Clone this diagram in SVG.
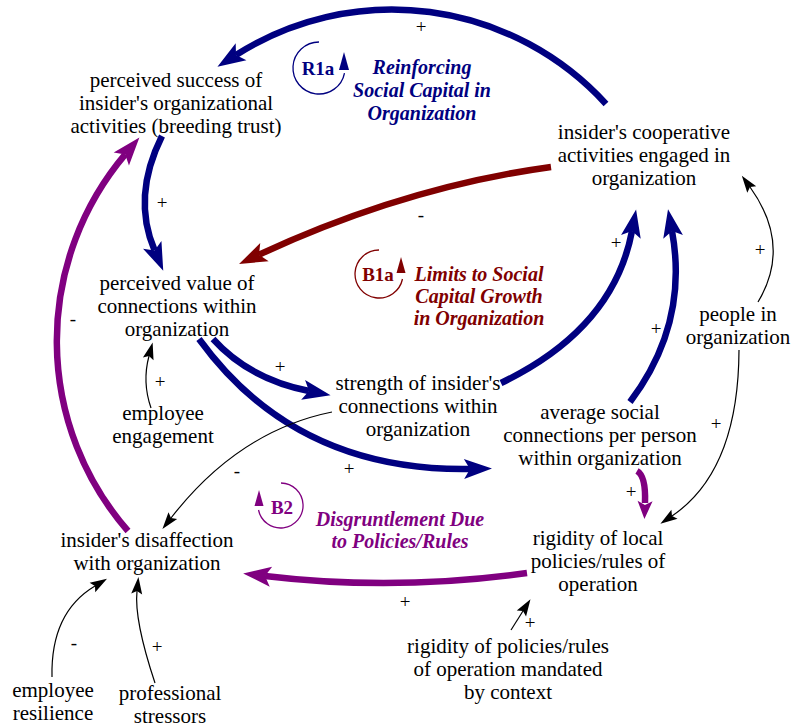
<svg xmlns="http://www.w3.org/2000/svg" width="791" height="727" viewBox="0 0 791 727">
  <style>
    text { font-family: "Liberation Serif", "DejaVu Serif", "Noto Serif", serif; }
    .node text { font-size: 21px; fill: #000; text-anchor: middle; }
    .sign { font-size: 19px; fill: #000; text-anchor: middle; }
    .loopname { font-size: 19px; font-weight: bold; text-anchor: middle; }
    .looptitle { font-size: 20px; font-weight: bold; font-style: italic; text-anchor: middle; }
    .thick { fill: none; stroke-width: 6.5; stroke-linecap: butt; }
    .thin { fill: none; stroke: #000; stroke-width: 1.2; }
    .navy { stroke: #000080; }
    .red { stroke: #800000; }
    .purple { stroke: #800080; }
    .loopcircle { fill: none; stroke-width: 1.3; }
  </style>
  <defs>
    <marker id="head-navy" markerUnits="userSpaceOnUse" markerWidth="40" markerHeight="40" refX="7" refY="0" orient="auto" overflow="visible">
      <path d="M1,-10 L29,0 L1,10 L7,0 Z" fill="#000080"/>
    </marker>
    <marker id="head-red" markerUnits="userSpaceOnUse" markerWidth="40" markerHeight="40" refX="7" refY="0" orient="auto" overflow="visible">
      <path d="M1,-10 L29,0 L1,10 L7,0 Z" fill="#800000"/>
    </marker>
    <marker id="head-purple" markerUnits="userSpaceOnUse" markerWidth="40" markerHeight="40" refX="7" refY="0" orient="auto" overflow="visible">
      <path d="M1,-10 L29,0 L1,10 L7,0 Z" fill="#800080"/>
    </marker>
    <marker id="head-purple-small" markerUnits="userSpaceOnUse" markerWidth="30" markerHeight="30" refX="4" refY="0" orient="auto" overflow="visible">
      <path d="M2,-7.5 L20,0 L2,7.5 L6,0 Z" fill="#800080"/>
    </marker>
    <marker id="head-black" markerUnits="userSpaceOnUse" markerWidth="30" markerHeight="30" refX="3" refY="0" orient="auto" overflow="visible">
      <path d="M0,-5.5 L17,0 L0,5.5 L3,0 Z" fill="#000"/>
    </marker>
  </defs>

  <rect width="791" height="727" fill="#fff"/>

  <!-- causal links -->
  <g id="connectors">
    <path class="thick navy" d="M606,104 A290,290 0 0 0 236,55" marker-end="url(#head-navy)"/>
    <path class="thick navy" d="M162,136 Q131.7,196.8 154.6,250.4" marker-end="url(#head-navy)"/>
    <path class="thick red" d="M551,167 Q405,187 259,254.7" marker-end="url(#head-red)"/>
    <path class="thick navy" d="M213,339 Q249,379 309,391" marker-end="url(#head-navy)"/>
    <path class="thick navy" d="M199,339 Q295.5,472 470,469" marker-end="url(#head-navy)"/>
    <path class="thick navy" d="M501,383 Q613.5,329 632,231" marker-end="url(#head-navy)"/>
    <path class="thick navy" d="M630,402 Q689,323.5 672,231" marker-end="url(#head-navy)"/>
    <path class="thick purple" d="M637,471 Q646,476 645,503" marker-end="url(#head-purple-small)"/>
    <path class="thick purple" d="M527,573 Q394,591.5 265,576" marker-end="url(#head-purple)"/>
    <path class="thick purple" d="M128,531 A289,289 0 0 1 125.2,154.4" marker-end="url(#head-purple)"/>
    <path class="thin" d="M758,302 Q792,245.5 750,187" marker-end="url(#head-black)"/>
    <path class="thin" d="M739,350 Q738.5,471 672,516" marker-end="url(#head-black)"/>
    <path class="thin" d="M332,412 Q238.5,431 171,518" marker-end="url(#head-black)"/>
    <path class="thin" d="M151,408 Q142,382 149,356" marker-end="url(#head-black)"/>
    <path class="thin" d="M52,677 Q50.5,612.5 95,586" marker-end="url(#head-black)"/>
    <path class="thin" d="M155,683 Q134,620 137,591" marker-end="url(#head-black)"/>
    <path class="thin" d="M511,630 L523,611" marker-end="url(#head-black)"/>

    <!-- polarity signs -->
    <text class="sign" x="421" y="33">+</text>
    <text class="sign" x="162" y="209">+</text>
    <text class="sign" x="421" y="221">-</text>
    <text class="sign" x="280" y="373">+</text>
    <text class="sign" x="349" y="475">+</text>
    <text class="sign" x="237" y="477">-</text>
    <text class="sign" x="616" y="249">+</text>
    <text class="sign" x="656" y="335">+</text>
    <text class="sign" x="760" y="256">+</text>
    <text class="sign" x="716" y="430">+</text>
    <text class="sign" x="631" y="498">+</text>
    <text class="sign" x="405" y="608">+</text>
    <text class="sign" x="530" y="629">+</text>
    <text class="sign" x="73" y="325">-</text>
    <text class="sign" x="160" y="388">+</text>
    <text class="sign" x="74" y="649">-</text>
    <text class="sign" x="157" y="653">+</text>
  </g>

  <!-- variables -->
  <g id="perceived-success" class="node">
    <text><tspan x="176" y="87">perceived success of</tspan><tspan x="176" y="110">insider's organizational</tspan><tspan x="176" y="133">activities (breeding trust)</tspan></text>
  </g>
  <g id="cooperative-activities" class="node">
    <text><tspan x="644" y="139">insider's cooperative</tspan><tspan x="644" y="162">activities engaged in</tspan><tspan x="644" y="185">organization</tspan></text>
  </g>
  <g id="perceived-value" class="node">
    <text><tspan x="177" y="290">perceived value of</tspan><tspan x="177" y="313">connections within</tspan><tspan x="177" y="336">organization</tspan></text>
  </g>
  <g id="employee-engagement" class="node">
    <text><tspan x="163" y="420">employee</tspan><tspan x="163" y="443">engagement</tspan></text>
  </g>
  <g id="connection-strength" class="node">
    <text><tspan x="418" y="390">strength of insider's</tspan><tspan x="418" y="413">connections within</tspan><tspan x="418" y="436">organization</tspan></text>
  </g>
  <g id="average-connections" class="node">
    <text><tspan x="600" y="419">average social</tspan><tspan x="600" y="442">connections per person</tspan><tspan x="600" y="465">within organization</tspan></text>
  </g>
  <g id="people" class="node">
    <text><tspan x="738" y="321">people in</tspan><tspan x="738" y="344">organization</tspan></text>
  </g>
  <g id="local-rigidity" class="node">
    <text><tspan x="598" y="545">rigidity of local</tspan><tspan x="598" y="568">policies/rules of</tspan><tspan x="598" y="591">operation</tspan></text>
  </g>
  <g id="mandated-rigidity" class="node">
    <text><tspan x="508" y="653">rigidity of policies/rules</tspan><tspan x="508" y="676">of operation mandated</tspan><tspan x="508" y="699">by context</tspan></text>
  </g>
  <g id="disaffection" class="node">
    <text><tspan x="147" y="547">insider's disaffection</tspan><tspan x="147" y="570">with organization</tspan></text>
  </g>
  <g id="resilience" class="node">
    <text><tspan x="53" y="697">employee</tspan><tspan x="53" y="720">resilience</tspan></text>
  </g>
  <g id="stressors" class="node">
    <text><tspan x="170" y="700">professional</tspan><tspan x="170" y="723">stressors</tspan></text>
  </g>

  <!-- loop markers -->
  <g id="loop-R1a">
    <path class="loopcircle" stroke="#000080" d="M319,42 A26,26 0 1 0 344.5,73"/>
    <path d="M344,52 L339,70 L349,70 Z" fill="#000080"/>
    <text class="loopname" x="318" y="75" fill="#000080">R1a</text>
    <text class="looptitle" fill="#000080"><tspan x="422" y="74">Reinforcing</tspan><tspan x="422" y="97">Social Capital in</tspan><tspan x="422" y="120">Organization</tspan></text>
  </g>
  <g id="loop-B1a">
    <path class="loopcircle" stroke="#800000" d="M379,250 A24,24 0 1 0 402.5,279"/>
    <path d="M401,257 L396.5,273 L405.5,273 Z" fill="#800000"/>
    <text class="loopname" x="378" y="281" fill="#800000">B1a</text>
    <text class="looptitle" fill="#800000"><tspan x="479" y="281">Limits to Social</tspan><tspan x="479" y="303">Capital Growth</tspan><tspan x="479" y="325">in Organization</tspan></text>
  </g>
  <g id="loop-B2">
    <path class="loopcircle" stroke="#800080" d="M281,483 A22.5,22.5 0 1 1 258.5,510"/>
    <path d="M259,490 L254.5,506 L263.5,506 Z" fill="#800080"/>
    <text class="loopname" x="282" y="514" fill="#800080">B2</text>
    <text class="looptitle" fill="#800080"><tspan x="400" y="526">Disgruntlement Due</tspan><tspan x="400" y="548">to Policies/Rules</tspan></text>
  </g>
</svg>
